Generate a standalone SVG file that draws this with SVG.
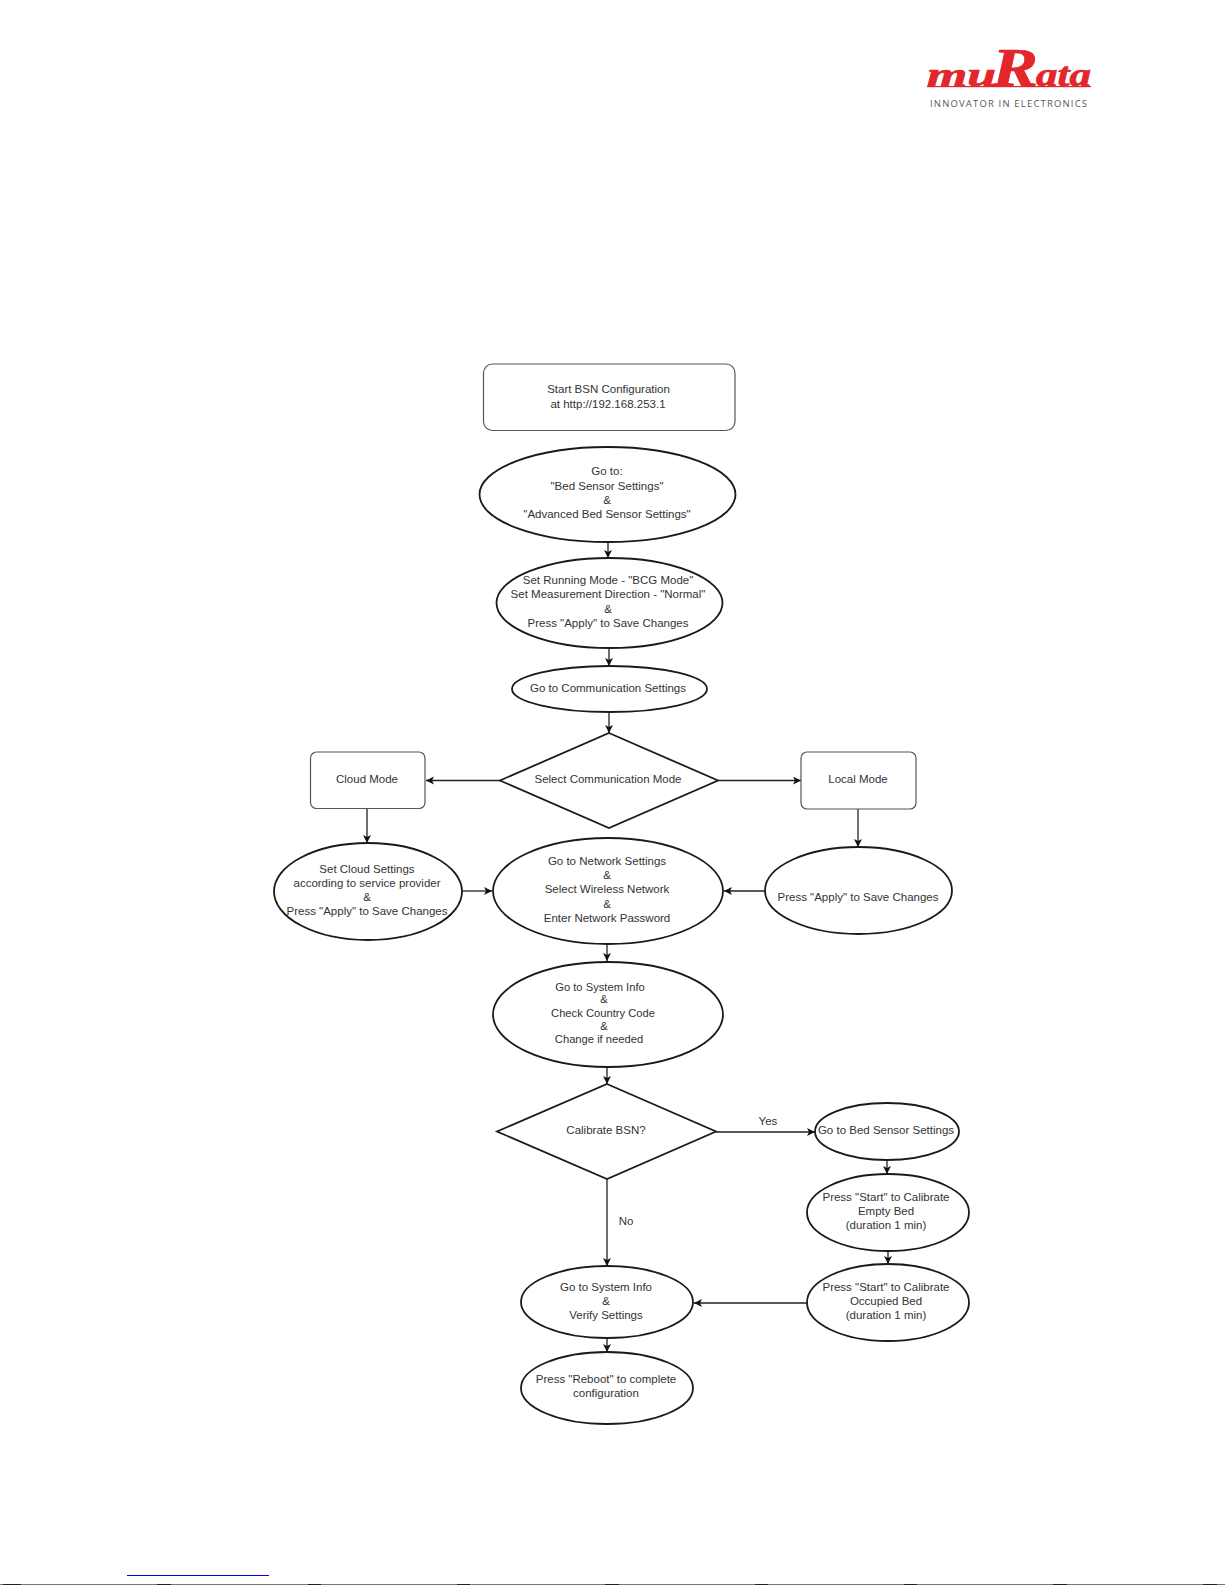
<svg xmlns="http://www.w3.org/2000/svg" width="1225" height="1585" viewBox="0 0 1225 1585">
<style>
text{font-family:"Liberation Sans",Arial,sans-serif;font-size:11.5px;fill:#333;text-anchor:middle}
.n{font-size:11.2px}
.s{fill:#fff;stroke:#1a1a1a;stroke-width:1.8}
.r{fill:#fff;stroke:#555;stroke-width:1.2}
.c{fill:none;stroke:#222;stroke-width:1.3;marker-end:url(#a)}
.logo{font-family:"Liberation Serif",serif;font-weight:bold;font-style:italic;fill:#e2262b;stroke:#e2262b;stroke-width:.7;text-anchor:start}
.b{fill:#222}
</style>
<defs><marker id="a" markerUnits="userSpaceOnUse" markerWidth="9" markerHeight="9" refX="8" refY="4" orient="auto"><path d="M0 0L8 4L0 8L2 4Z" fill="#111"/></marker></defs>
<rect width="1225" height="1585" fill="#fff"/>
<g id="logo">
<text class="logo" x="927" y="86" style="font-size:33px" textLength="69" lengthAdjust="spacingAndGlyphs">mu</text>
<text class="logo" x="992" y="86" style="font-size:54px" textLength="46" lengthAdjust="spacingAndGlyphs">R</text>
<text class="logo" x="1036" y="86" style="font-size:33px" textLength="55" lengthAdjust="spacingAndGlyphs">ata</text>
<rect x="927" y="86" width="164" height="1.2" fill="#e2262b"/>
<text x="1008.500" y="107" style="font-family:'Open Sans',sans-serif;font-size:9.5px;fill:#5a5a5a" textLength="157">INNOVATOR IN ELECTRONICS</text>
</g>
<g id="connectors">
<path class="c" d="M608 542V558"/>
<path class="c" d="M609 648V666"/>
<path class="c" d="M609 712V733"/>
<path class="c" d="M500 780.500H426"/>
<path class="c" d="M718 780.500H801"/>
<path class="c" d="M367 808V843"/>
<path class="c" d="M858 809V847"/>
<path class="c" d="M462 891H492"/>
<path class="c" d="M765 891H724"/>
<path class="c" d="M607 944V961"/>
<path class="c" d="M607 1067V1084"/>
<path class="c" d="M716 1132H815"/>
<path class="c" d="M607 1179V1266"/>
<path class="c" d="M887 1160V1174"/>
<path class="c" d="M888 1251V1264"/>
<path class="c" d="M807 1303H694"/>
<path class="c" d="M607 1338V1352"/>
</g>
<g id="start"><rect class="r" x="483.500" y="364" width="251.500" height="66.500" rx="9"/><text x="608.500" y="393">Start BSN Configuration</text><text x="608" y="407.500">at http://192.168.253.1</text></g>
<g id="goto-settings"><ellipse class="s" cx="607.500" cy="494.500" rx="128" ry="47.500"/><text x="607" y="475">Go to:</text><text x="607" y="490">"Bed Sensor Settings"</text><text x="607" y="504">&amp;</text><text x="607" y="518">"Advanced Bed Sensor Settings"</text></g>
<g id="running-mode"><ellipse class="s" cx="609.500" cy="603" rx="113" ry="45"/><text x="608" y="584">Set Running Mode - "BCG Mode"</text><text x="608" y="598">Set Measurement Direction - "Normal"</text><text x="608" y="613">&amp;</text><text x="608" y="627">Press "Apply" to Save Changes</text></g>
<g id="comm-settings"><ellipse class="s" cx="609.500" cy="689" rx="97.500" ry="23"/><text x="608" y="692">Go to Communication Settings</text></g>
<g id="comm-mode"><path class="s" d="M609 733L718 780.500L609 828L500 780.500Z"/><text x="608" y="783">Select Communication Mode</text></g>
<g id="cloud-mode"><rect class="r" x="310.500" y="752" width="114.500" height="56.500" rx="6"/><text x="367" y="783">Cloud Mode</text></g>
<g id="local-mode"><rect class="r" x="801" y="752" width="115" height="57" rx="6"/><text x="858" y="783">Local Mode</text></g>
<g id="cloud-settings"><ellipse class="s" cx="368" cy="891.500" rx="94" ry="48.500"/><text x="367" y="873">Set Cloud Settings</text><text x="367" y="887">according to service provider</text><text x="367" y="901">&amp;</text><text x="367" y="915">Press "Apply" to Save Changes</text></g>
<g id="network"><ellipse class="s" cx="608" cy="891" rx="115" ry="53"/><text x="607" y="865">Go to Network Settings</text><text x="607" y="879">&amp;</text><text x="607" y="893">Select Wireless Network</text><text x="607" y="908">&amp;</text><text x="607" y="922">Enter Network Password</text></g>
<g id="apply"><ellipse class="s" cx="858.500" cy="890.500" rx="93.500" ry="43.500"/><text x="858" y="901">Press "Apply" to Save Changes</text></g>
<g id="system-info"><ellipse class="s" cx="608" cy="1014.500" rx="115" ry="52.500"/><text class="n" x="600" y="991">Go to System Info</text><text class="n" x="604" y="1003">&amp;</text><text class="n" x="603" y="1017">Check Country Code</text><text class="n" x="604" y="1030">&amp;</text><text class="n" x="599" y="1043">Change if needed</text></g>
<g id="calibrate"><path class="s" d="M607 1084L716 1131.500L607 1179L497 1131.500Z"/><text x="606" y="1134">Calibrate BSN?</text></g>
<g id="labels"><text x="768" y="1125">Yes</text><text x="626" y="1225">No</text></g>
<g id="bed-sensor"><ellipse class="s" cx="887" cy="1131.500" rx="72" ry="28.500"/><text x="886" y="1134">Go to Bed Sensor Settings</text></g>
<g id="empty-bed"><ellipse class="s" cx="888" cy="1212.500" rx="81" ry="38.500"/><text x="886" y="1201">Press "Start" to Calibrate</text><text x="886" y="1215">Empty Bed</text><text x="886" y="1229">(duration 1 min)</text></g>
<g id="occupied-bed"><ellipse class="s" cx="888" cy="1302.500" rx="81" ry="38.500"/><text x="886" y="1291">Press "Start" to Calibrate</text><text x="886" y="1305">Occupied Bed</text><text x="886" y="1319">(duration 1 min)</text></g>
<g id="verify"><ellipse class="s" cx="607" cy="1302" rx="86" ry="36"/><text x="606" y="1291">Go to System Info</text><text x="606" y="1305">&amp;</text><text x="606" y="1319">Verify Settings</text></g>
<g id="reboot"><ellipse class="s" cx="607" cy="1388" rx="86" ry="36"/><text x="606" y="1383">Press "Reboot" to complete</text><text x="606" y="1397">configuration</text></g>
<g id="footer"><rect x="127" y="1575" width="142" height="1" fill="#0000f0"/><rect y="1584" width="1225" height="1" fill="#777"/>
<rect class="b" x="3" y="1584" width="18" height="1"/><rect class="b" x="157" y="1584" width="14" height="1"/><rect class="b" x="308" y="1584" width="13" height="1"/><rect class="b" x="457" y="1584" width="13" height="1"/><rect class="b" x="605" y="1584" width="14" height="1"/><rect class="b" x="755" y="1584" width="13" height="1"/><rect class="b" x="904" y="1584" width="13" height="1"/><rect class="b" x="1053" y="1584" width="14" height="1"/><rect class="b" x="1203" y="1584" width="14" height="1"/></g>
</svg>
